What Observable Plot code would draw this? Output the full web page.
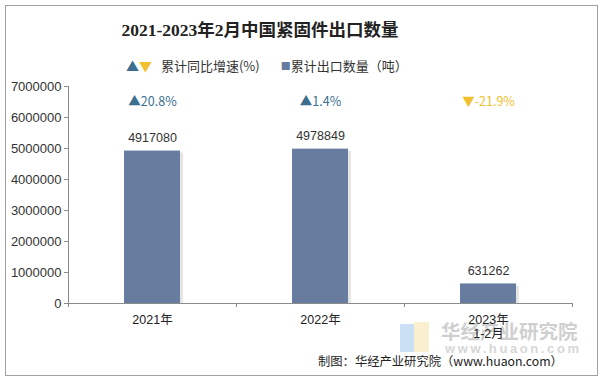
<!DOCTYPE html>
<html>
<head>
<meta charset="utf-8">
<script src="https://cdn.jsdelivr.net/npm/d3@7"></script>
<script src="https://cdn.jsdelivr.net/npm/@observablehq/plot@0.6"></script>
<style>
  body { margin: 0; background: #fff; }
  #wrap { position: relative; width: 605px; height: 381px; overflow: hidden; font-family: "Liberation Sans", "Noto Sans CJK SC", sans-serif; }
  #border { position: absolute; left: 5px; top: 5px; width: 593px; height: 371px; border: 1px solid #a0a0a0; box-sizing: border-box; }
  #title { position: absolute; left: 0; width: 520px; top: 16px; text-align: center; font-family: "Liberation Serif", "Noto Sans CJK SC", serif; font-weight: bold; font-size: 17.5px; color: #222; }
  #legend { position: absolute; top: 54px; left: 126px; font-size: 13px; color: #333; white-space: nowrap; font-family: "Noto Sans CJK SC", sans-serif; }
  #legend span { vertical-align: middle; }
  #footer { position: absolute; top: 352px; left: 318px; font-size: 12.3px; color: #222; white-space: nowrap; font-family: "Noto Sans CJK SC", "Liberation Sans", sans-serif; }
  #wm { position: absolute; left: 400px; top: 320px; opacity: 0.4; pointer-events: none; }
  svg { position: absolute; left: 0; top: 0; }
</style>
</head>
<body>
<div id="wrap">
  <div id="border"></div>
  <div id="wm">
    <div style="position:absolute;left:0;top:4px;width:14px;height:28px;background:#7fb2e8"></div>
    <div style="position:absolute;left:14px;top:2px;width:15px;height:30px;background:#f3d98a"></div>
    <div style="position:absolute;left:41px;top:0;font-family:'Noto Sans CJK SC';font-weight:bold;font-size:19.5px;color:#8a8a8a;white-space:nowrap;line-height:22px">华经产业研究院</div>
    <div style="position:absolute;left:45px;top:21px;font-family:'Liberation Sans';font-weight:bold;font-size:13px;letter-spacing:2.6px;color:#9a9a9a;white-space:nowrap">www.huaon.com</div>
  </div>
  <div id="title">2021-2023年2月中国紧固件出口数量</div>
  <div id="legend">
    <span style="color:#3c6f8f;font-size:13px">▲</span><span style="color:#f2c02e;font-size:13px">▼</span>
    <span style="margin-left:6px">累计同比增速(%)</span>
    <span style="margin-left:18px;color:#667b9f;font-size:10px">■</span><span>累计出口数量（吨）</span>
  </div>
  <div id="footer">制图：华经产业研究院（www.huaon.com）</div>
  <div id="chart"></div>
</div>
<script>
const categories = ["2021年", "2022年", "2023年\n1-2月"];
const volumes = [4917080, 4978849, 631262];
const growth = [20.8, 1.4, -21.9];
const yTicks = [0, 1000000, 2000000, 3000000, 4000000, 5000000, 6000000, 7000000];

const data = categories.map((c, i) => ({cat: c, v: volumes[i], g: growth[i]}));

const chart = Plot.plot({
  width: 605,
  height: 381,
  marginTop: 86,
  marginBottom: 78,
  marginLeft: 68,
  marginRight: 33,
  style: {background: "transparent", fontFamily: "Liberation Sans, Noto Sans CJK SC, sans-serif"},
  x: {domain: categories, paddingInner: 2/3, paddingOuter: 1/3, label: null},
  y: {domain: [0, 7000000], label: null},
  marks: [
    Plot.barY(data, {x: "cat", y: "v", fill: "#000", fillOpacity: 0.10, dx: 3, insetTop: 2}),
    Plot.barY(data, {x: "cat", y: "v", fill: "#687c9f"}),
    Plot.ruleY([0], {stroke: "#8c8c8c"}),
    Plot.frame({anchor: "left", stroke: "#8c8c8c"}),
    Plot.ruleX(categories, {x: d => d, dx: -84, y1: 0, y2: 0, insetBottom: -4, stroke: "#8c8c8c"}),
    Plot.ruleX(categories.slice(-1), {x: d => d, dx: 84, y1: 0, y2: 0, insetBottom: -4, stroke: "#8c8c8c"}),
    Plot.axisY({ticks: yTicks, tickFormat: d => String(d), tickSize: 4, tickPadding: 3, fontSize: 13, fill: "#333", stroke: "#8c8c8c"}),
    Plot.axisX({tickSize: 0, tickPadding: 10, fontSize: 12.5, fill: "#222", lineHeight: 1.15}),
    Plot.text(data, {x: "cat", y: "v", text: d => String(d.v), dy: -13, fontSize: 12.5, fill: "#333"}),
    Plot.text(data, {x: "cat", frameAnchor: "top", dy: 11,
      text: d => (d.g >= 0 ? "▲" : "▼") + d.g + "%",
      fontFamily: "Noto Sans CJK SC, Liberation Sans, sans-serif",
      fill: d => d.g >= 0 ? "#3c6f8f" : "#f2c02e", fontSize: 12.5})
  ]
});
document.getElementById("chart").appendChild(chart);
</script>
</body>
</html>
